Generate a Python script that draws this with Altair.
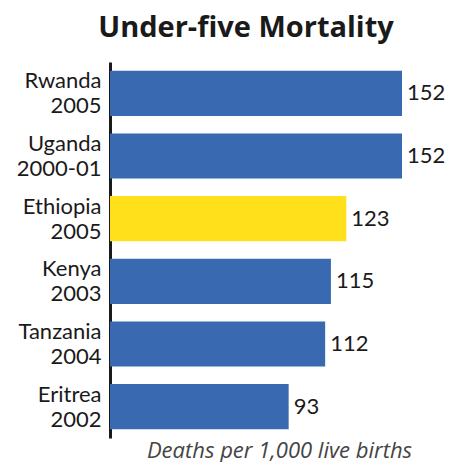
import altair as alt
import pandas as pd

countries = ["Rwanda\n2005", "Uganda\n2000-01", "Ethiopia\n2005", "Kenya\n2003", "Tanzania\n2004", "Eritrea\n2002"]
values = [152, 152, 123, 115, 112, 93]
highlight = [False, False, True, False, False, False]

df = pd.DataFrame({"country": countries, "value": values, "hl": highlight})

FONT = "Lato"

base = alt.Chart(df).encode(
    y=alt.Y("country:N", sort=countries,
            scale=alt.Scale(paddingInner=0.28, paddingOuter=0.14),
            axis=alt.Axis(title=None, ticks=False, grid=False, domain=True,
                          domainColor="#1a1a1a", domainWidth=3,
                          labelExpr="split(datum.label, '\\n')",
                          labelFont=FONT, labelFontSize=22, labelColor="#1a1a1a",
                          labelLineHeight=25, labelPadding=9, labelBaseline="middle",
                          labelOffset=-12)),
)

bars = base.mark_bar().encode(
    x=alt.X("value:Q", scale=alt.Scale(domain=[0, 152], nice=False),
            axis=alt.Axis(title="Deaths per 1,000 live births", domain=False, ticks=False,
                          labels=False, grid=False, titleFont="Open Sans", titleFontSize=22,
                          titleFontStyle="italic", titleFontWeight="normal",
                          titleColor="#444444", titleX=169, titleY=19,
                          titleAlign="center", titleBaseline="alphabetic", titleLimit=440)),
    color=alt.Color("hl:N", scale=alt.Scale(domain=[False, True], range=["#3869B1", "#FFE01B"]),
                    legend=None),
)

labels = base.mark_text(align="left", baseline="middle", dx=5, font=FONT, fontSize=22,
                        color="#1a1a1a").encode(
    x=alt.X("value:Q"),
    text=alt.Text("value:Q"),
)

chart = (bars + labels).properties(
    width=292, height=376,
    autosize=alt.AutoSizeParams(type="none"),
    padding={"left": 102, "top": 54, "right": 43, "bottom": 24},
    title=alt.TitleParams("Under-five Mortality", font="Open Sans", fontSize=29, fontWeight="bold",
                          color="#1a1a1a", anchor="middle", dx=-10, offset=19, limit=440),
).configure_view(stroke=None)

chart.save("out.html", embed_options={"renderer": "svg", "actions": False})
